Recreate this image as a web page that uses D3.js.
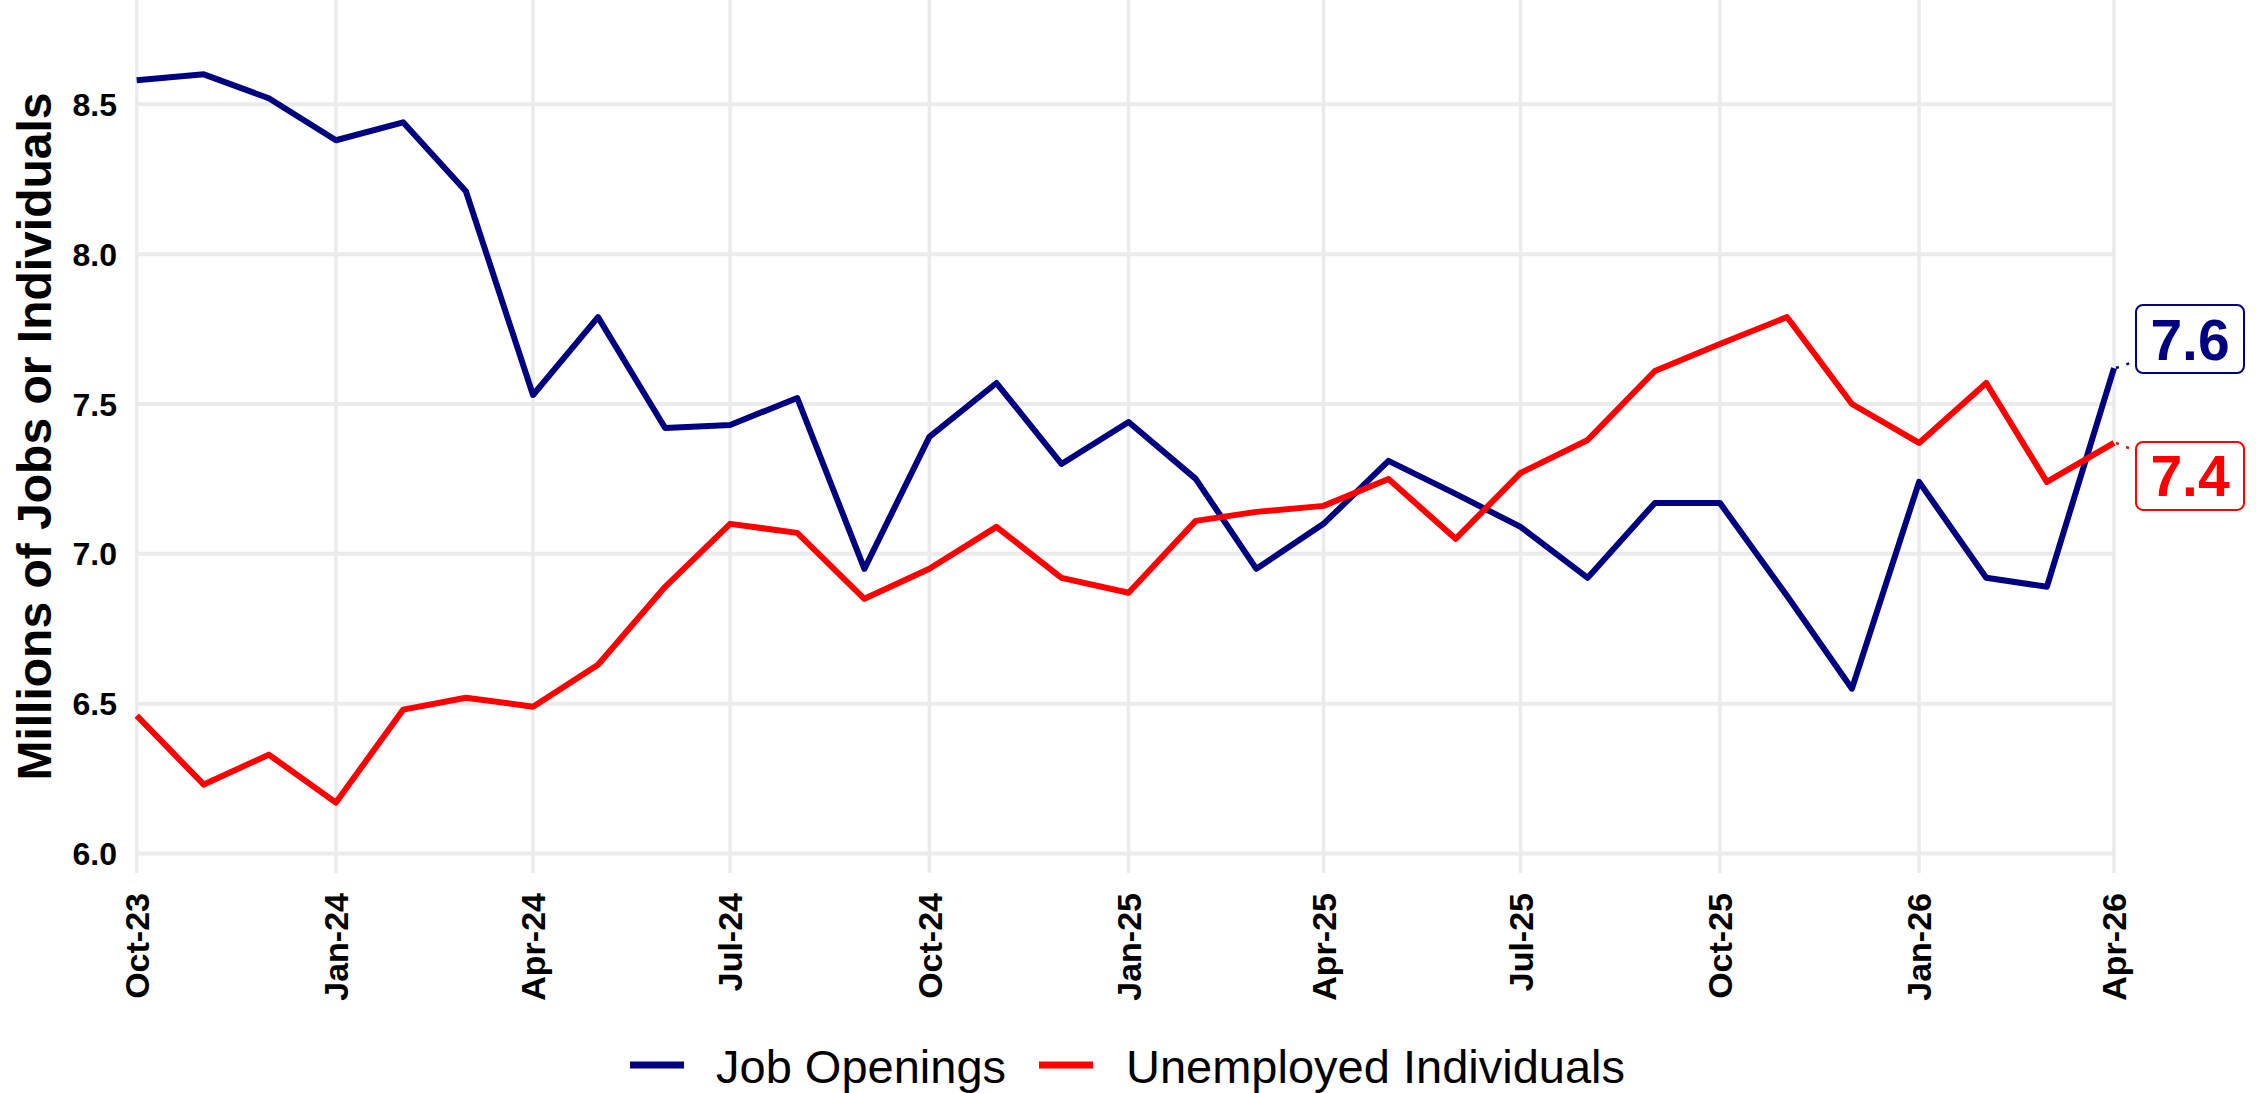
<!DOCTYPE html>
<html>
<head>
<meta charset="utf-8">
<script src="https://cdn.jsdelivr.net/npm/d3@7"></script>
<style>
	body { margin: 0; background: #fff; }
	svg { display: block; font-family: "Liberation Sans", Arial, sans-serif; }
</style>
</head>
<body>
<svg></svg>
<script>
var months = ["2023-10", "2023-11", "2023-12", "2024-01", "2024-02", "2024-03",
	"2024-04", "2024-05", "2024-06", "2024-07", "2024-08", "2024-09",
	"2024-10", "2024-11", "2024-12", "2025-01", "2025-02", "2025-03",
	"2025-04", "2025-05", "2025-06", "2025-07", "2025-08", "2025-09",
	"2025-10", "2025-11", "2025-12", "2026-01", "2026-02", "2026-03", "2026-04"];
var jobOpenings = [8.58, 8.60, 8.52, 8.38, 8.44, 8.21, 7.53, 7.79, 7.42, 7.43, 7.52, 6.95,
	7.39, 7.57, 7.30, 7.44, 7.25, 6.95, 7.10, 7.31, 7.20, 7.09, 6.92, 7.17,
	7.17, 6.86, 6.55, 7.24, 6.92, 6.89, 7.62];
var unemployed = [6.46, 6.23, 6.33, 6.17, 6.48, 6.52, 6.49, 6.63, 6.89, 7.10, 7.07, 6.85,
	6.95, 7.09, 6.92, 6.87, 7.11, 7.14, 7.16, 7.25, 7.05, 7.27, 7.38, 7.61,
	7.70, 7.79, 7.50, 7.37, 7.57, 7.24, 7.37];
var seriesNames = ["Job Openings", "Unemployed Individuals"];
var seriesColors = ["#000080", "#ff0000"];
var yTicks = [6.0, 6.5, 7.0, 7.5, 8.0, 8.5];
var xTickMonths = ["2023-10", "2024-01", "2024-04", "2024-07", "2024-10", "2025-01",
	"2025-04", "2025-07", "2025-10", "2026-01", "2026-04"];

var width = 2256,
	height = 1093,
	plotLeft = 136.7,
	plotRight = 2114,
	plotTop = 0,
	plotBottom = 873;

var parse = d3.timeParse("%Y-%m");
var dates = months.map(parse);

var x = d3.scaleTime()
	.domain([dates[0], dates[dates.length - 1]])
	.range([plotLeft, plotRight]);
var y = d3.scaleLinear()
	.domain([5.935, 8.848])
	.range([plotBottom, plotTop]);

var svg = d3.select("svg").attr("width", width).attr("height", height);

// grid
svg.append("g").selectAll("line").data(yTicks).join("line")
	.attr("x1", plotLeft).attr("x2", plotRight)
	.attr("y1", d => y(d)).attr("y2", d => y(d))
	.attr("stroke", "#ebebeb").attr("stroke-width", 4);
svg.append("g").selectAll("line").data(xTickMonths.map(parse)).join("line")
	.attr("x1", d => x(d)).attr("x2", d => x(d))
	.attr("y1", plotTop).attr("y2", plotBottom)
	.attr("stroke", "#ebebeb").attr("stroke-width", 3.5);

// y tick labels
svg.append("g").selectAll("text").data(yTicks).join("text")
	.attr("x", 117).attr("y", d => y(d)).attr("dy", "0.36em")
	.attr("text-anchor", "end")
	.attr("font-size", 32).attr("font-weight", "bold")
	.text(d3.format(".1f"));

// x tick labels
var fmt = d3.timeFormat("%b-%y");
svg.append("g").selectAll("text").data(xTickMonths.map(parse)).join("text")
	.attr("transform", d => "translate(" + x(d) + ",893) rotate(-90)")
	.attr("dy", "0.36em")
	.attr("text-anchor", "end")
	.attr("font-size", 34).attr("font-weight", "bold")
	.text(fmt);

// y title
svg.append("text")
	.attr("transform", "translate(51," + ((plotTop + plotBottom) / 2) + ") rotate(-90)")
	.attr("text-anchor", "middle")
	.attr("font-size", 48).attr("font-weight", "bold")
	.text("Millions of Jobs or Individuals");

// lines
var line = d3.line()
	.x((d, i) => x(dates[i]))
	.y(d => y(d));
[jobOpenings, unemployed].forEach(function(vals, k) {
	svg.append("path").attr("d", line(vals))
		.attr("fill", "none")
		.attr("stroke", seriesColors[k])
		.attr("stroke-width", 6)
		.attr("stroke-linejoin", "round");
});

// end labels
var labelShift = [-29, 33];
[jobOpenings, unemployed].forEach(function(vals, k) {
	var last = vals[vals.length - 1],
		px = x(dates[dates.length - 1]),
		py = y(last),
		bx = px + 22,
		by = py + labelShift[k],
		bw = 108,
		bh = 68;
	svg.append("line")
		.attr("x1", px + 2).attr("y1", py)
		.attr("x2", bx).attr("y2", by + (k == 0 ? 22 : -25))
		.attr("stroke", seriesColors[k]).attr("stroke-width", 2.5)
		.attr("stroke-dasharray", "3,8");
	svg.append("rect")
		.attr("x", bx).attr("y", by - bh / 2)
		.attr("width", bw).attr("height", bh)
		.attr("rx", 7)
		.attr("fill", "#fff")
		.attr("stroke", seriesColors[k]).attr("stroke-width", 2);
	svg.append("text")
		.attr("x", bx + bw / 2).attr("y", by).attr("dy", "0.36em")
		.attr("text-anchor", "middle")
		.attr("font-size", 57).attr("font-weight", "bold")
		.attr("fill", seriesColors[k])
		.text(d3.format(".1f")(last));
});

// legend
var legendKeys = [630, 1039];
var legendText = [716, 1126];
seriesNames.forEach(function(name, k) {
	svg.append("line")
		.attr("x1", legendKeys[k]).attr("x2", legendKeys[k] + 54)
		.attr("y1", 1065).attr("y2", 1065)
		.attr("stroke", seriesColors[k]).attr("stroke-width", 7);
	svg.append("text")
		.attr("x", legendText[k]).attr("y", 1083)
		.attr("font-size", 47)
		.text(name);
});
</script>
</body>
</html>
